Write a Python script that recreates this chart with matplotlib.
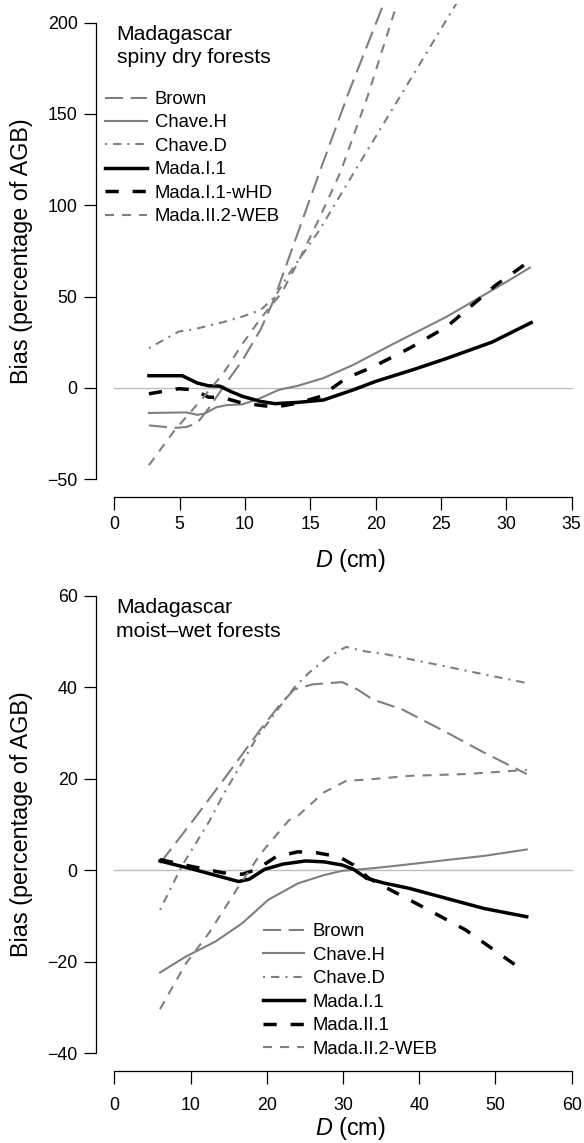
import matplotlib
matplotlib.use("Agg")
import matplotlib.pyplot as plt

plt.rcParams['font.family'] = ['Liberation Sans', 'DejaVu Sans']
plt.rcParams['mathtext.fontset'] = 'custom'
plt.rcParams['mathtext.it'] = 'Liberation Sans:italic'
plt.rcParams['mathtext.rm'] = 'Liberation Sans'
plt.rcParams['lines.scale_dashes'] = False

# ---- spiny dry forests (top panel) ----
dry_brown_d = [2.65, 4.6, 5.5, 6.35, 7.2, 8.4, 9.8, 11.2, 12.2, 13.7, 15.7, 18.0, 20.7]
dry_brown_b = [-20.6, -22, -21.5, -19.3, -11.5, 1, 15, 32, 48, 78, 118, 163, 212]
dry_chaveh_d = [2.65, 5.5, 6.35, 6.9, 7.8, 8.6, 9.8, 11.2, 12.6, 14.05, 16.0, 18.3, 21.2, 25.45, 30.0, 31.8]
dry_chaveh_b = [-13.8, -13.5, -14.8, -14.2, -10.7, -9.5, -9.1, -5.6, -1.1, 1.1, 5.3, 12.6, 23.5, 39, 58, 65.8]
dry_chaved_d = [2.65, 4.93, 6.07, 8.35, 9.8, 11.2, 12.3, 13.4, 15.7, 18.3, 21.7, 26.3]
dry_chaved_b = [21.7, 30.8, 32, 36, 39, 42.6, 50, 62.7, 86.4, 117.5, 157.6, 212]
dry_madai1_d = [2.65, 5.2, 6.35, 7.2, 8.07, 8.9, 9.8, 11.2, 12.3, 14.05, 16.0, 18.3, 20.0, 22.9, 25.4, 28.9, 31.9]
dry_madai1_b = [6.6, 6.6, 2.6, 1.1, 0.9, -2.0, -4.7, -7.5, -8.7, -8.0, -6.7, -1.1, 3.5, 10, 16, 25, 35.7]
dry_whd_d = [2.65, 4.93, 6.07, 7.2, 8.35, 9.8, 12.3, 14.05, 15.8, 17.75, 19.75, 22.6, 25.45, 29.15, 31.7]
dry_whd_b = [-3.3, -0.5, -1.1, -5.1, -5.5, -8.4, -10.6, -8.4, -4.7, 5.3, 11.3, 21.7, 33.5, 56, 69]
dry_web_d = [2.65, 4.65, 6.65, 8.35, 9.8, 11.2, 12.8, 14.0, 15.5, 17.3, 19.4, 21.7]
dry_web_b = [-42.4, -23, -6.6, 8, 24, 38, 52, 68, 90, 118, 160, 212]

# ---- moist-wet forests (bottom panel) ----
wet_brown_d = [6.0, 10.4, 14.0, 19.2, 21.6, 23.6, 26.0, 29.9, 31.9, 33.9, 37.8, 43.6, 48.5, 54.1]
wet_brown_b = [1.5, 11, 19, 30.8, 35.9, 39.5, 40.6, 41.1, 39.5, 37.3, 35.1, 30.1, 25.7, 21.0]
wet_chaveh_d = [6.0, 9.4, 13.3, 16.8, 20.2, 24.1, 27.5, 29.9, 33.9, 37.8, 43.6, 48.5, 54.1]
wet_chaveh_b = [-22.4, -18.9, -15.6, -11.6, -6.5, -2.9, -1.1, -0.15, 0.4, 1.1, 2.2, 3.1, 4.5]
wet_chaved_d = [6.0, 8.9, 12.4, 14.3, 18.7, 21.6, 23.6, 25.5, 28.0, 30.4, 33.0, 35.3, 41.2, 48.5, 54.1]
wet_chaved_b = [-8.7, 1, 10.5, 16.5, 29, 35.5, 39.9, 43.1, 46.5, 48.8, 47.8, 47.3, 45.3, 42.8, 40.9]
wet_madai1_d = [6.0, 10.4, 14.3, 16.3, 17.7, 19.7, 22.1, 25.1, 27.5, 29.9, 31.4, 33.1, 35.3, 38.7, 43.6, 48.5, 54.1]
wet_madai1_b = [2.0, 0.15, -1.6, -2.5, -2.0, 0.15, 1.3, 2.0, 1.8, 1.1, 0.15, -1.8, -2.8, -4.0, -6.2, -8.4, -10.2]
wet_madaii1_d = [6.0, 10.4, 14.3, 16.8, 18.7, 21.2, 24.1, 26.5, 29.5, 31.4, 33.4, 36.3, 41.2, 46.1, 52.9]
wet_madaii1_b = [2.3, 0.7, -0.6, -0.9, 0.15, 2.9, 4.0, 3.8, 2.9, 1.1, -1.8, -4.4, -8.7, -13.1, -21.1]
wet_web_d = [6.0, 9.4, 12.4, 16.3, 19.2, 22.9, 24.1, 27.5, 30.4, 33.9, 38.7, 46.1, 54.1]
wet_web_b = [-30.4, -20.4, -13.8, -3.6, 3.6, 10.9, 11.9, 17.0, 19.5, 19.9, 20.6, 21.0, 21.9]

GRAY = '#7f7f7f'
styles = {
    'Brown':    dict(color=GRAY, lw=1.5, dashes=(13, 5.5)),
    'Chave.H':  dict(color=GRAY, lw=1.5),
    'Chave.D':  dict(color=GRAY, lw=1.5, dashes=(1.5, 4.3, 6, 4.3)),
    'Mada.I.1': dict(color='black', lw=2.5),
    'blackdash': dict(color='black', lw=2.5, dashes=(9.5, 10)),
    'web':      dict(color=GRAY, lw=1.5, dashes=(6.5, 5.8)),
}

W, H = 584, 1143
fig = plt.figure(figsize=(W / 100, H / 100), dpi=100)


def fx(x):
    return x / W


def fy(y):
    return 1 - y / H


def setup(ax, xmax, ylo, yhi, yticks, xpad):
    ax.spines['top'].set_visible(False)
    ax.spines['right'].set_visible(False)
    ax.spines['left'].set_bounds(ylo, yhi)
    ax.spines['bottom'].set_bounds(0, xmax)
    for s in ('left', 'bottom'):
        ax.spines[s].set_linewidth(0.9)
    ax.set_yticks(yticks)
    ax.tick_params(length=9, width=0.9, labelsize=12.8)
    ax.tick_params(axis='y', pad=4.3)
    ax.tick_params(axis='x', pad=xpad)
    ax.set_xlabel('$D$ (cm)', fontsize=16.8, va='baseline')
    ax.set_ylabel('Bias (percentage of AGB)', fontsize=16.8)


def add_legend(ax, x, y):
    h, l = ax.get_legend_handles_labels()
    ax.legend(h, l, loc='upper left', bbox_to_anchor=(fx(x), fy(y)),
              bbox_transform=fig.transFigure, frameon=False, fontsize=13.3,
              borderpad=0, borderaxespad=0, handlelength=2.25,
              handletextpad=0.45, labelspacing=0.35)


# top panel
ax1 = fig.add_axes([fx(96), fy(497.3), 494 / W, 492.85 / H])
ax1.set_xlim(-1.4, 36.4)
ax1.set_ylim(-60, 210)
ax1.plot([0, 35], [0, 0], color='#bebebe', lw=1.0)
ax1.plot(dry_brown_d, dry_brown_b, label='Brown', **styles['Brown'])
ax1.plot(dry_chaveh_d, dry_chaveh_b, label='Chave.H', **styles['Chave.H'])
ax1.plot(dry_chaved_d, dry_chaved_b, label='Chave.D', **styles['Chave.D'])
ax1.plot(dry_madai1_d, dry_madai1_b, label='Mada.I.1', **styles['Mada.I.1'])
ax1.plot(dry_whd_d, dry_whd_b, label='Mada.I.1-wHD', **styles['blackdash'])
ax1.plot(dry_web_d, dry_web_b, label='Mada.II.2-WEB', **styles['web'])
setup(ax1, 35, -50, 200, [-50, 0, 50, 100, 150, 200], 4.8)
ax1.set_xticks([0, 5, 10, 15, 20, 25, 30, 35])
ax1.xaxis.set_label_coords(0.5156, (497.3 - 567.3) / 492.85)
ax1.yaxis.set_label_coords(-0.1275, 0.5)
add_legend(ax1, 105, 91)
fig.text(fx(116.7), fy(40), 'Madagascar', fontsize=15.2, va='baseline')
fig.text(fx(116.7), fy(63.3), 'spiny dry forests', fontsize=15.2, va='baseline')

# bottom panel
ax2 = fig.add_axes([fx(96), fy(1071.3), 494 / W, 493.9 / H])
ax2.set_xlim(-2.4, 62.4)
ax2.set_ylim(-44, 64)
ax2.plot([0, 60], [0, 0], color='#bebebe', lw=1.0)
ax2.plot(wet_brown_d, wet_brown_b, label='Brown', **styles['Brown'])
ax2.plot(wet_chaveh_d, wet_chaveh_b, label='Chave.H', **styles['Chave.H'])
ax2.plot(wet_chaved_d, wet_chaved_b, label='Chave.D', **styles['Chave.D'])
ax2.plot(wet_madai1_d, wet_madai1_b, label='Mada.I.1', **styles['Mada.I.1'])
ax2.plot(wet_madaii1_d, wet_madaii1_b, label='Mada.II.1', **styles['blackdash'])
ax2.plot(wet_web_d, wet_web_b, label='Mada.II.2-WEB', **styles['web'])
setup(ax2, 60, -40, 60, [-40, -20, 0, 20, 40, 60], 9.5)
ax2.set_xticks([0, 10, 20, 30, 40, 50, 60])
ax2.xaxis.set_label_coords(0.5156, (1071.3 - 1135) / 493.9)
ax2.yaxis.set_label_coords(-0.1275, 0.5)
add_legend(ax2, 262.8, 923.4)
fig.text(fx(116.3), fy(613.3), 'Madagascar', fontsize=15.2, va='baseline')
fig.text(fx(116.3), fy(636.7), 'moist\u2013wet forests', fontsize=15.2, va='baseline')

fig.savefig('out.png', dpi=100)
